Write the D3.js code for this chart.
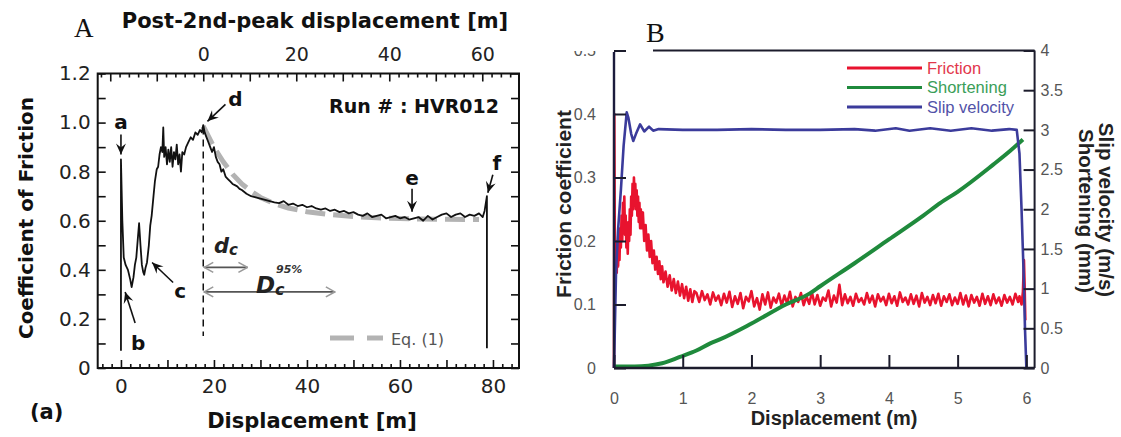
<!DOCTYPE html>
<html lang="en">
<head>
<meta charset="UTF-8">
<title>Friction experiments A / B</title>
<script src="https://d3js.org/d3.v7.min.js"></script>
<style>
  body { margin: 0; background: #fff; }
  svg { display: block; }
  .pa text { font-family: "DejaVu Sans", sans-serif; }
  .pb text { font-family: "Liberation Sans", Arial, sans-serif; }
</style>
</head>
<body>
<svg width="1121" height="437"></svg>
<script>
// ---------- panel A data : displacement [m], coefficient of friction ----------
var frictionA = [
  [0,0.07],[0,0.85],[0.3,0.6],[0.6,0.45],[1.0,0.42],[1.5,0.4],[2.0,0.36],[2.3,0.33],[2.7,0.37],
  [3.0,0.42],[3.3,0.45],[3.6,0.52],[3.9,0.59],[4.2,0.5],[4.5,0.42],[4.8,0.39],[5.0,0.38],[5.3,0.41],
  [5.6,0.43],[6.0,0.5],[6.3,0.58],[6.6,0.62],[7.0,0.7],[7.3,0.76],[7.7,0.81],[8.0,0.82],[8.3,0.87],
  [8.6,0.9],[8.9,0.88],[9.1,0.98],[9.3,0.86],[9.6,0.9],[9.9,0.83],[10.2,0.89],[10.5,0.84],[10.8,0.9],
  [11.1,0.82],[11.4,0.88],[11.7,0.85],[12.0,0.91],[12.3,0.83],[12.6,0.87],[12.9,0.8],[13.2,0.88],
  [13.6,0.87],[14.0,0.9],[14.5,0.92],[15.0,0.94],[15.5,0.93],[16.0,0.96],[16.5,0.95],[17.0,0.97],
  [17.4,0.96],[17.7,0.99],[18.0,0.96],[18.4,0.94],[18.8,0.92],[19.2,0.9],[19.6,0.88],[20.0,0.9],
  [20.4,0.86],[20.8,0.84],[21.2,0.83],[21.6,0.8],[22.0,0.81],[22.5,0.78],[23.0,0.77],[23.5,0.76],
  [24.0,0.75],[24.5,0.745],[25.0,0.74],[25.5,0.73],[26.0,0.725],[27,0.71],[28,0.7],[29,0.695],
  [30,0.69],[31,0.685],[32,0.68],[33,0.675],[34,0.672],[35,0.68],[36,0.665],[37,0.67],[38,0.66],
  [39,0.665],[40,0.655],[41,0.66],[42,0.65],[43,0.645],[44,0.65],[45,0.64],[46,0.645],[47,0.635],
  [48,0.64],[49,0.63],[50,0.635],[51,0.625],[52,0.62],[53,0.63],[54,0.615],[55,0.62],[56,0.625],
  [57,0.61],[58,0.615],[59,0.62],[60,0.61],[61,0.615],[62,0.605],[63,0.61],[64,0.615],[65,0.6],
  [66,0.62],[67,0.605],[68,0.615],[69,0.625],[70,0.63],[71,0.615],[72,0.625],[73,0.63],[74,0.615],
  [75,0.625],[76,0.62],[77,0.63],[77.8,0.615],[78.2,0.64],[78.7,0.7],[78.7,0.08]
];
// Eq. (1) fit
var eqFit = [
  [17.7,0.985],[20,0.9],[22,0.84],[24,0.79],[26,0.75],[28,0.72],[30,0.695],[33,0.67],[36,0.652],
  [40,0.637],[45,0.625],[50,0.617],[55,0.612],[60,0.609],[65,0.607],[70,0.606],[77,0.605]
];
var secondPeak = 17.7;       // displacement where post-2nd-peak axis starts
var dcEnd = 27.2;            // end of d_c arrow
var dc95End = 46;            // end of D_c^95% arrow
var bottomLabelsA = [0, 20, 40, 60, 80];
var topLabelsA = [0, 20, 40, 60];
var yLabelsA = [0, 0.2, 0.4, 0.6, 0.8, 1.0, 1.2];
var pointsA = [
  {t: "a", x: 0,    y: 0.87},
  {t: "b", x: 0.9,  y: 0.31},
  {t: "c", x: 6.7,  y: 0.43},
  {t: "d", x: 18.6, y: 1.005},
  {t: "e", x: 62.6, y: 0.637},
  {t: "f", x: 78.9, y: 0.714}
];

// ---------- panel B data : displacement (m) ----------
var frictionBStart = [
  [0,0.0],[0.004,0.40],[0.008,0.30],[0.012,0.17],[0.02,0.14],[0.03,0.19],[0.04,0.15],[0.05,0.2],
  [0.06,0.16],[0.07,0.21],[0.08,0.17],[0.09,0.22],[0.1,0.19],[0.11,0.24],[0.12,0.2],[0.13,0.26],
  [0.14,0.22],[0.15,0.27],[0.16,0.21],[0.17,0.24],[0.18,0.19],[0.19,0.22],[0.2,0.18],[0.21,0.23],
  [0.22,0.2],[0.23,0.25],[0.24,0.21],[0.25,0.27],[0.26,0.24],[0.27,0.29],[0.28,0.25],[0.29,0.3],
  [0.3,0.27],[0.31,0.29],[0.32,0.25],[0.33,0.28],[0.34,0.24],[0.35,0.27],[0.36,0.23],[0.37,0.26],
  [0.38,0.22],[0.39,0.25],[0.4,0.22],[0.42,0.245],[0.44,0.2],[0.46,0.225],[0.48,0.185],[0.5,0.21],
  [0.52,0.175],[0.54,0.2],[0.56,0.165],[0.58,0.185],[0.6,0.155],[0.62,0.175],[0.64,0.148],
  [0.66,0.168],[0.68,0.14],[0.7,0.16],[0.72,0.135],[0.75,0.152],[0.78,0.128],[0.81,0.146],
  [0.84,0.122],[0.87,0.14],[0.9,0.118],[0.93,0.136],[0.96,0.114],[0.99,0.132],[1.02,0.11],
  [1.05,0.128],[1.08,0.106],[1.11,0.124],[1.14,0.104],[1.17,0.121]
];
// steady part, sampled every 0.04 m from 1.20 m
var plateauStart = 1.2, plateauStep = 0.04;
var frictionBPlateau = [
  .118,.104,.121,.107,.116,.100,.119,.106,.114,.099,
  .117,.103,.120,.096,.113,.101,.118,.094,.112,.105,
  .121,.097,.110,.092,.116,.100,.119,.095,.111,.103,
  .117,.098,.114,.102,.120,.097,.112,.104,.118,.099,
  .113,.101,.119,.100,.115,.098,.111,.106,.122,.097,
  .114,.103,.131,.099,.116,.102,.112,.098,.117,.104,
  .110,.100,.118,.103,.114,.097,.116,.105,.112,.099,
  .117,.102,.113,.098,.119,.104,.111,.100,.116,.101,
  .114,.097,.118,.103,.112,.099,.115,.102,.117,.098,
  .113,.104,.116,.099,.111,.101,.118,.100,.114,.097,
  .115,.103,.112,.098,.117,.101,.113,.099,.116,.102,
  .111,.098,.115,.103,.112,.100,.117,.104
];
var frictionBEnd = [[5.9,0.113],[5.93,0.1],[5.95,0.12],[5.965,0.17],[5.975,0.13],[5.985,0.075]];
var shortening = [
  [0,0.02],[0.3,0.02],[0.5,0.03],[0.7,0.06],[0.96,0.14],[1.2,0.22],[1.4,0.31],[1.54,0.36],
  [2.0,0.56],[2.5,0.8],[2.85,0.94],[3.0,1.03],[3.5,1.32],[4.0,1.62],[4.5,1.92],[4.75,2.08],
  [5.0,2.22],[5.5,2.55],[5.77,2.74],[5.95,2.88]
];
var slipVelocity = [
  [0,0],[0.01,0.4],[0.03,1.23],[0.06,1.75],[0.1,2.24],[0.14,2.8],[0.185,3.22],[0.21,3.15],
  [0.25,2.95],[0.28,2.86],[0.32,2.95],[0.38,3.07],[0.44,2.98],[0.51,3.04],[0.57,2.99],[0.65,3.01],
  [1.0,3.0],[1.5,3.0],[2.0,3.01],[2.5,3.0],[3.0,3.0],[3.5,3.01],[3.8,2.99],[4.1,3.02],[4.3,2.99],
  [4.6,3.02],[4.9,2.99],[5.2,3.02],[5.5,2.99],[5.75,3.01],[5.86,3.0],[5.9,2.7],[5.93,2.0],
  [5.96,1.2],[5.98,0.5],[6.0,0]
];
var xLabelsB = [0, 1, 2, 3, 4, 5, 6];
var yLeftLabelsB = [0, 0.1, 0.2, 0.3, 0.4, 0.5];
var yRightLabelsB = [0, 0.5, 1, 1.5, 2, 2.5, 3, 3.5, 4];
var seriesB = ["Friction", "Shortening", "Slip velocity"];
var colorsB = {"Friction": "#e8132e", "Shortening": "#1f8a3c", "Slip velocity": "#3b3b9b"};
var legendColorsB = {"Friction": "#e2364c", "Shortening": "#3a9e58", "Slip velocity": "#5252a8"};

var svg = d3.select("svg");

// arrow heads
var defs = svg.append("defs");
defs.append("marker")
    .attr("id", "head")
    .attr("viewBox", "-12 -6 13 12")
    .attr("refX", 0).attr("refY", 0)
    .attr("markerWidth", 13).attr("markerHeight", 12)
    .attr("markerUnits", "userSpaceOnUse")
    .attr("orient", "auto")
    .append("path")
    .attr("d", "M0,0 L-11,-5 L-7,0 L-11,5 Z")
    .attr("fill", "#111");
defs.append("marker")
    .attr("id", "open")
    .attr("viewBox", "-11 -7 12 14")
    .attr("refX", 0).attr("refY", 0)
    .attr("markerWidth", 12).attr("markerHeight", 14)
    .attr("markerUnits", "userSpaceOnUse")
    .attr("orient", "auto-start-reverse")
    .append("path")
    .attr("d", "M-9,-5 L0,0 L-9,5")
    .attr("fill", "none")
    .attr("stroke", "#9a9a9a")
    .attr("stroke-width", 1.6);

// ================= Panel A =================
var gA = svg.append("g").attr("class", "pa");
var xA = d3.scaleLinear().domain([-5, 85.6]).range([97.7, 519]);
var xTopA = d3.scaleLinear().domain([-5 - secondPeak, 85.6 - secondPeak]).range([97.7, 519]);
var yA = d3.scaleLinear().domain([0, 1.2]).range([368, 73.5]);

var lineA = d3.line().x(function(d) { return xA(d[0]); }).y(function(d) { return yA(d[1]); });

// fit curve
gA.append("path")
    .datum(eqFit)
    .attr("d", lineA)
    .attr("fill", "none")
    .attr("stroke", "#b3b3b3")
    .attr("stroke-width", 5)
    .attr("stroke-dasharray", "20,8");

// measured friction
gA.append("path")
    .datum(frictionA)
    .attr("d", lineA)
    .attr("fill", "none")
    .attr("stroke", "#111")
    .attr("stroke-width", 1.8)
    .attr("stroke-linejoin", "round");

// 2nd peak marker line
gA.append("line")
    .attr("x1", xA(secondPeak)).attr("x2", xA(secondPeak))
    .attr("y1", yA(0.98)).attr("y2", yA(0.13))
    .attr("stroke", "#111")
    .attr("stroke-width", 1.5)
    .attr("stroke-dasharray", "7,5");

// axes (ticks inward)
function styleAxis(g, size) {
    g.select(".domain").remove();
    g.selectAll("line").attr("stroke", "#111").attr("stroke-width", 1.6);
    g.selectAll("text").style("font-size", size + "px").attr("fill", "#222");
}
var minorX = d3.range(-4, 86, 2).filter(function(d) { return d % 10 !== 0; });
var majorX = d3.range(0, 81, 10);
gA.append("g").attr("transform", "translate(0," + yA(0) + ")")
    .call(d3.axisBottom(xA).tickValues(minorX).tickSize(-4).tickFormat(""))
    .call(styleAxis, 19);
gA.append("g").attr("transform", "translate(0," + yA(0) + ")")
    .call(d3.axisBottom(xA).tickValues(majorX).tickSize(-8).tickPadding(11)
        .tickFormat(function(d) { return bottomLabelsA.indexOf(d) >= 0 ? d : ""; }))
    .call(styleAxis, 20);

var minorTop = d3.range(-22, 68, 2).filter(function(d) { return d % 10 !== 0; });
var majorTop = d3.range(-20, 67, 10);
gA.append("g").attr("transform", "translate(0," + yA(1.2) + ")")
    .call(d3.axisTop(xTopA).tickValues(minorTop).tickSize(-4).tickFormat(""))
    .call(styleAxis, 19);
gA.append("g").attr("transform", "translate(0," + yA(1.2) + ")")
    .call(d3.axisTop(xTopA).tickValues(majorTop).tickSize(-8).tickPadding(13)
        .tickFormat(function(d) { return topLabelsA.indexOf(d) >= 0 ? d : ""; }))
    .call(styleAxis, 19);

var yTicksA = d3.range(0, 13).map(function(i) { return i / 10; });
gA.append("g").attr("transform", "translate(" + xA.range()[0] + ",0)")
    .call(d3.axisLeft(yA).tickValues(yTicksA).tickSize(-8).tickPadding(7)
        .tickFormat(function(d) {
            var hit = yLabelsA.filter(function(v) { return Math.abs(v - d) < 1e-6; });
            if (!hit.length) return "";
            return d === 0 ? "0" : d3.format(".1f")(d);
        }))
    .call(styleAxis, 20);
gA.append("g").attr("transform", "translate(" + xA.range()[1] + ",0)")
    .call(d3.axisRight(yA).tickValues(yTicksA).tickSize(-8).tickFormat(""))
    .call(styleAxis, 20);

// frame
gA.append("rect")
    .attr("x", xA.range()[0]).attr("y", yA(1.2))
    .attr("width", xA.range()[1] - xA.range()[0])
    .attr("height", yA(0) - yA(1.2))
    .attr("fill", "none")
    .attr("stroke", "#111")
    .attr("stroke-width", 2);

// point labels with arrows
var arrowOffsets = {
    a: {tail: [0, -20], text: [0, -25], anchor: "middle"},
    b: {tail: [10, 31], text: [13, 58], anchor: "middle"},
    c: {tail: [21, 20], text: [28, 36], anchor: "middle"},
    d: {tail: [18, -17], text: [28, -15], anchor: "middle"},
    e: {tail: [0, -23], text: [0, -27], anchor: "middle"},
    f: {tail: [5, -18], text: [9, -23], anchor: "middle"}
};
pointsA.forEach(function(p) {
    var o = arrowOffsets[p.t];
    var tx = xA(p.x), ty = yA(p.y);
    gA.append("line")
        .attr("x1", tx + o.tail[0]).attr("y1", ty + o.tail[1])
        .attr("x2", tx).attr("y2", ty)
        .attr("stroke", "#111").attr("stroke-width", 1.6)
        .attr("marker-end", "url(#head)");
    gA.append("text")
        .attr("x", tx + o.text[0]).attr("y", ty + o.text[1])
        .attr("text-anchor", o.anchor)
        .style("font-size", "20px").style("font-weight", "bold")
        .attr("fill", "#111")
        .text(p.t);
});

// d_c and D_c^95% arrows
[[dcEnd, 0.41], [dc95End, 0.31]].forEach(function(a) {
    gA.append("line")
        .attr("x1", xA(secondPeak) + 1).attr("x2", xA(a[0]))
        .attr("y1", yA(a[1])).attr("y2", yA(a[1]))
        .attr("stroke", "#555").attr("stroke-width", 1.6)
        .attr("marker-start", "url(#open)")
        .attr("marker-end", "url(#open)");
});
var dcText = gA.append("text").attr("x", 214).attr("y", 253)
    .style("font-weight", "bold").style("font-style", "italic").attr("fill", "#222");
dcText.append("tspan").style("font-size", "21px").text("d");
dcText.append("tspan").style("font-size", "15px").attr("dy", 2).text("c");
var DcText = gA.append("text").attr("x", 256).attr("y", 293)
    .style("font-weight", "bold").style("font-style", "italic").attr("fill", "#222");
DcText.append("tspan").style("font-size", "23px").text("D");
DcText.append("tspan").style("font-size", "16px").attr("dy", 2).text("c");
gA.append("text").attr("x", 276).attr("y", 273)
    .style("font-size", "11px").style("font-style", "italic").style("font-weight", "bold")
    .attr("fill", "#333").text("95%");

// legend Eq. (1)
gA.append("line")
    .attr("x1", 330).attr("x2", 383).attr("y1", 338).attr("y2", 338)
    .attr("stroke", "#b3b3b3").attr("stroke-width", 5)
    .attr("stroke-dasharray", "24,13,16");
gA.append("text").attr("x", 391).attr("y", 345)
    .style("font-size", "16px").attr("fill", "#555").text("Eq. (1)");

gA.append("text").attr("x", 499).attr("y", 113).attr("text-anchor", "end")
    .style("font-size", "19px").style("font-weight", "bold").attr("fill", "#111")
    .text("Run # : HVR012");

// titles
gA.append("text").attr("x", 315).attr("y", 28).attr("text-anchor", "middle")
    .style("font-size", "21px").style("font-weight", "bold").attr("fill", "#111")
    .text("Post-2nd-peak displacement [m]");
gA.append("text").attr("x", 312).attr("y", 428).attr("text-anchor", "middle")
    .style("font-size", "21px").style("font-weight", "bold").attr("fill", "#111")
    .text("Displacement [m]");
gA.append("text").attr("transform", "translate(33,218) rotate(-90)")
    .attr("text-anchor", "middle")
    .style("font-size", "20px").style("font-weight", "bold").attr("fill", "#111")
    .text("Coefficient of Friction");
gA.append("text").attr("x", 30).attr("y", 419)
    .style("font-size", "21px").style("font-weight", "bold").attr("fill", "#111")
    .text("(a)");
gA.append("text").attr("x", 74).attr("y", 37)
    .style("font-family", "'Liberation Serif', serif").style("font-size", "27px")
    .attr("fill", "#111").text("A");

// ================= Panel B =================
var gB = svg.append("g").attr("class", "pb");
var xB = d3.scaleLinear().domain([0, 6.12]).range([614, 1034.6]);
var yBL = d3.scaleLinear().domain([0, 0.5]).range([368, 50.5]);
var yBR = d3.scaleLinear().domain([0, 4]).range([368, 50.5]);

var frictionB = frictionBStart
    .concat(frictionBPlateau.map(function(v, i) { return [plateauStart + i * plateauStep, v]; }))
    .concat(frictionBEnd);

gB.append("path")
    .datum(frictionB)
    .attr("d", d3.line().x(function(d) { return xB(d[0]); }).y(function(d) { return yBL(d[1]); }))
    .attr("fill", "none")
    .attr("stroke", colorsB["Friction"])
    .attr("stroke-width", 2.6)
    .attr("stroke-linejoin", "round");

var lineR = d3.line().x(function(d) { return xB(d[0]); }).y(function(d) { return yBR(d[1]); });
gB.append("path")
    .datum(shortening)
    .attr("d", lineR.curve(d3.curveMonotoneX))
    .attr("fill", "none")
    .attr("stroke", colorsB["Shortening"])
    .attr("stroke-width", 4);
gB.append("path")
    .datum(slipVelocity)
    .attr("d", d3.line().x(function(d) { return xB(d[0]); }).y(function(d) { return yBR(d[1]); }))
    .attr("fill", "none")
    .attr("stroke", colorsB["Slip velocity"])
    .attr("stroke-width", 2.6)
    .attr("stroke-linejoin", "round");

function styleAxisB(g) {
    g.select(".domain").remove();
    g.selectAll("line").attr("stroke", "#1c1c2c").attr("stroke-width", 2);
    g.selectAll("text").style("font-size", "16px").attr("fill", "#555");
}
gB.append("g").attr("transform", "translate(0," + yBL(0) + ")")
    .call(d3.axisBottom(xB).tickValues(xLabelsB).tickSize(-13).tickPadding(25)
        .tickFormat(d3.format("d")))
    .call(styleAxisB);
gB.append("g").attr("transform", "translate(" + xB(0) + ",0)")
    .call(d3.axisLeft(yBL).tickValues(yLeftLabelsB).tickSize(-12).tickPadding(18)
        .tickFormat(function(d) { return d === 0 ? "0" : d3.format(".1f")(d); }))
    .call(styleAxisB);
gB.append("g").attr("transform", "translate(" + xB.range()[1] + ",0)")
    .call(d3.axisRight(yBR).tickValues(yRightLabelsB).tickSize(-11).tickPadding(6)
        .tickFormat(function(d) { return d3.format("~g")(d); }))
    .call(styleAxisB);

// axis lines
gB.append("line").attr("x1", xB(0)).attr("x2", xB(0)).attr("y1", 52).attr("y2", yBL(0))
    .attr("stroke", "#1c1c3c").attr("stroke-width", 2.4);
gB.append("line").attr("x1", xB(0)).attr("x2", xB.range()[1]).attr("y1", yBL(0)).attr("y2", yBL(0))
    .attr("stroke", "#1c1c2c").attr("stroke-width", 2.4);
gB.append("line").attr("x1", xB.range()[1]).attr("x2", xB.range()[1]).attr("y1", yBR(4)).attr("y2", yBR(0))
    .attr("stroke", "#1c1c2c").attr("stroke-width", 2);
gB.append("line").attr("x1", 653).attr("x2", xB.range()[1]).attr("y1", yBR(4)).attr("y2", yBR(4))
    .attr("stroke", "#1c1c2c").attr("stroke-width", 2);

// top of the "0.5" label is cut off in the source figure
gB.append("rect").attr("x", 560).attr("y", 0).attr("width", 50).attr("height", 51).attr("fill", "#fff");

// legend
seriesB.forEach(function(s, i) {
    var ly = 68 + i * 19.5;
    gB.append("line").attr("x1", 847).attr("x2", 922).attr("y1", ly).attr("y2", ly)
        .attr("stroke", colorsB[s]).attr("stroke-width", 3);
    gB.append("text").attr("x", 927).attr("y", ly + 5.5)
        .style("font-size", "16.5px").attr("fill", legendColorsB[s]).text(s);
});

// titles
gB.append("text").attr("x", 834).attr("y", 425).attr("text-anchor", "middle")
    .style("font-size", "20px").style("font-weight", "bold").attr("fill", "#222")
    .text("Displacement (m)");
gB.append("text").attr("transform", "translate(571,204) rotate(-90)").attr("text-anchor", "middle")
    .style("font-size", "21px").style("font-weight", "bold").attr("fill", "#222")
    .text("Friction coefficient");
gB.append("text").attr("transform", "translate(1099,210) rotate(90)").attr("text-anchor", "middle")
    .style("font-size", "20.5px").style("font-weight", "bold").attr("fill", "#222")
    .text("Slip velocity (m/s)");
gB.append("text").attr("transform", "translate(1079,211) rotate(90)").attr("text-anchor", "middle")
    .style("font-size", "20.5px").style("font-weight", "bold").attr("fill", "#222")
    .text("Shortening (mm)");
gB.append("text").attr("x", 646).attr("y", 42)
    .style("font-family", "'Liberation Serif', serif").style("font-size", "28px")
    .attr("fill", "#111").text("B");
</script>
</body>
</html>
